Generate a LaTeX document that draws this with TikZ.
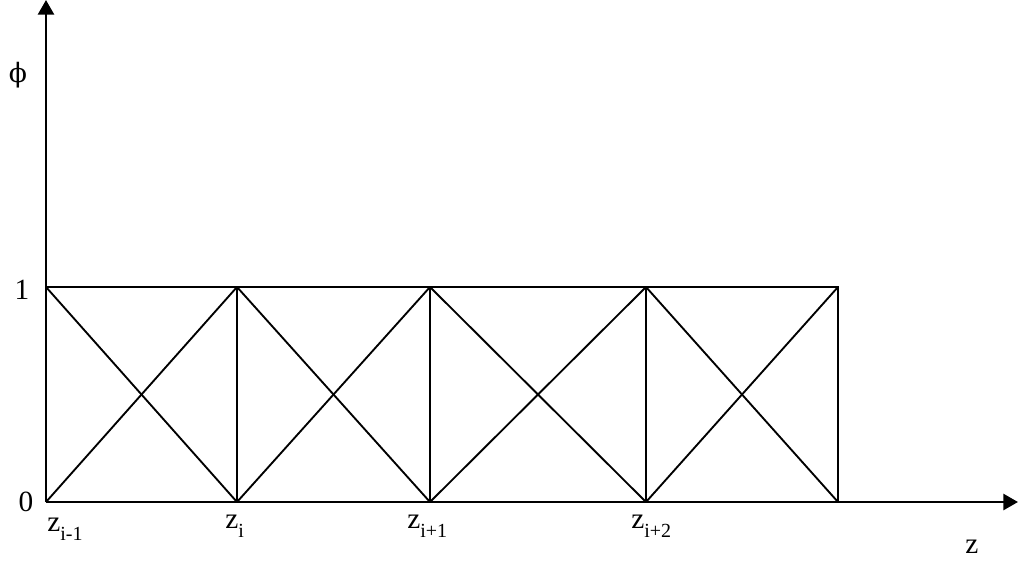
\documentclass[tikz,border=0pt]{standalone}
\usepackage{fontspec}
\setmainfont{Liberation Serif}
\newfontfamily\phifont{DejaVu Serif}
\usetikzlibrary{arrows.meta}
\newcommand{\zlab}[1]{z\raisebox{-7pt}{\fontsize{15}{15}\selectfont #1}}
\begin{document}
\begin{tikzpicture}[x=0.75pt,y=-0.75pt,
  gridline/.style={line width=1.4pt},
  axisline/.style={line width=2pt,-{Triangle[length=11pt,width=12pt]}},
  lab/.style={inner sep=0pt,font=\fontsize{22}{22}\selectfont}]
\useasboundingbox (0,0) rectangle (1018,562);
% grid points
\coordinate (b0) at (46,502);
\coordinate (b1) at (237,502);
\coordinate (b2) at (430,502);
\coordinate (b3) at (646,502);
\coordinate (b4) at (838,502);
\coordinate (t0) at (46,287);
\coordinate (t1) at (237,287);
\coordinate (t2) at (430,287);
\coordinate (t3) at (646,287);
\coordinate (t4) at (838,287);
\coordinate (ytip) at (46,0);
\coordinate (xtip) at (1018,502);
% axes
\draw[axisline] (b0) -- (ytip);
\draw[axisline] (b0) -- (xtip);
% frame
\draw[gridline] (t0) -- (t4) -- (b4);
\draw[gridline] (t1) -- (b1);
\draw[gridline] (t2) -- (b2);
\draw[gridline] (t3) -- (b3);
% diagonals
\draw[gridline] (b0) -- (t1) (t0) -- (b1);
\draw[gridline] (b1) -- (t2) (t1) -- (b2);
\draw[gridline] (b2) -- (t3) (t2) -- (b3);
\draw[gridline] (b3) -- (t4) (t3) -- (b4);
% labels
\node[lab] (phi) at (18,75) {{\phifont\fontsize{20}{20}\selectfont ϕ}};
\node[lab] (one) at (22,290) {1};
\node[lab] (zero) at (26,502) {0};
\node[lab,anchor=base west] (zl0) at (47,531) {\zlab{i-1}};
\node[lab,anchor=base west] (zl1) at (225,528) {\zlab{i}};
\node[lab,anchor=base west] (zl2) at (407,528) {\zlab{i+1}};
\node[lab,anchor=base west] (zl3) at (631,528) {\zlab{i+2}};
\node[lab,anchor=base west] (zz) at (965,553) {z};
\end{tikzpicture}
\end{document}
